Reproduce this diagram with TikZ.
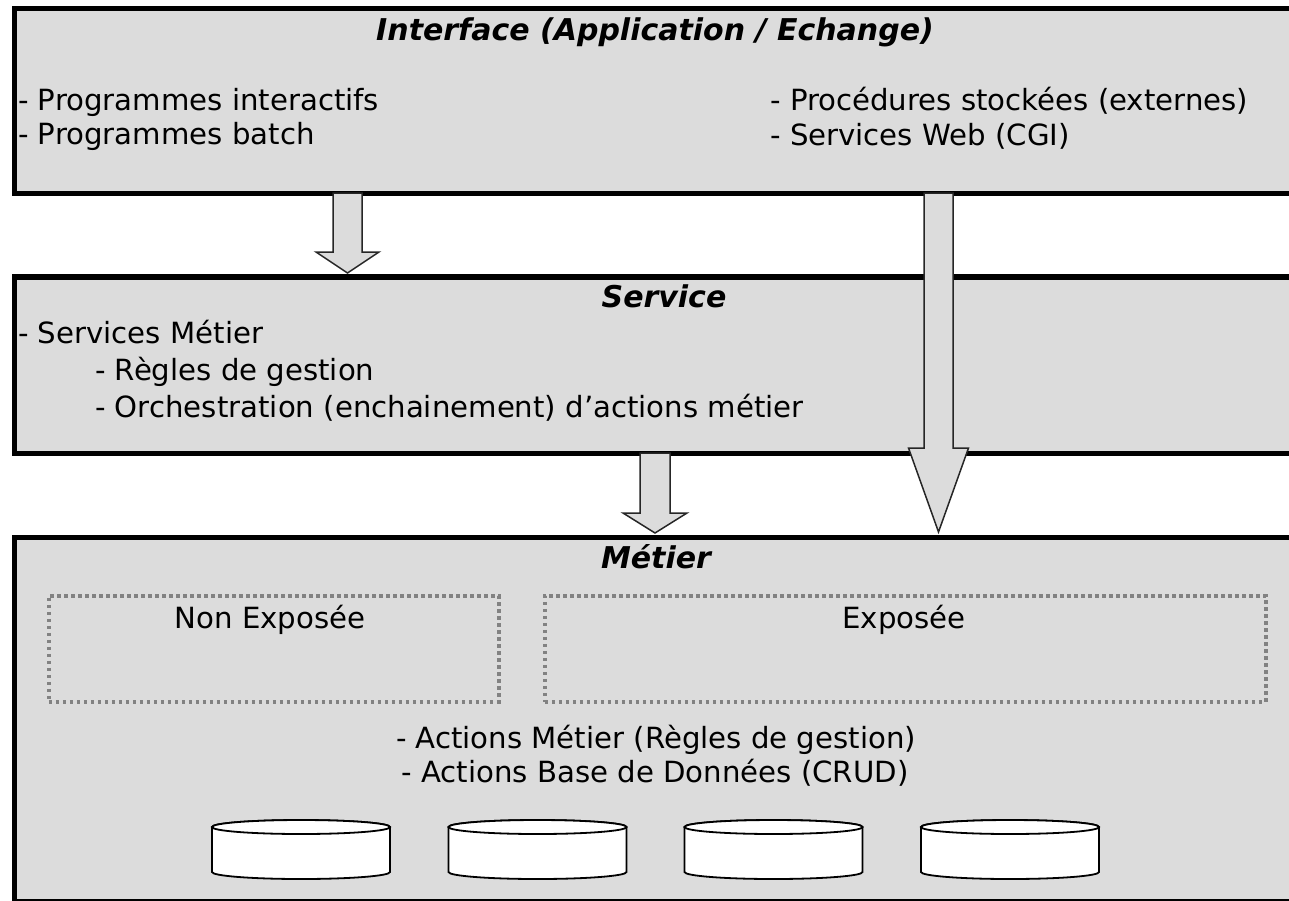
\documentclass[tikz,border=0pt]{standalone}
\usepackage{fontspec}
\setmainfont{DejaVu Sans}
\usetikzlibrary{calc}
\definecolor{boxgray}{RGB}{220,220,220}
\definecolor{dotgray}{RGB}{130,130,130}
\newcommand\blockarrow[6]{%
  \draw[barrow] (#1-#4,#2) -- (#1+#4,#2) -- (#1+#4,#3) -- (#1+#5,#3) -- (#1,#6)
    -- (#1-#5,#3) -- (#1-#4,#3) -- cycle;}
\newcommand\dbcyl[2]{%
  \draw[cyl] (#1-89,827) -- (#1-89,872)
     arc[start angle=180, end angle=360, x radius=89pt, y radius=7pt]
     -- (#1+89,827)
     arc[start angle=0, end angle=180, x radius=89pt, y radius=7pt] -- cycle;
  \draw[cyl] (#1,827) ellipse [x radius=89pt, y radius=7pt];
  \coordinate (#2) at (#1,850);}
\begin{document}
\begin{tikzpicture}[x=1pt,y=-1pt,
  layer/.style={draw=black, line width=5.5pt, fill=boxgray, inner sep=0pt, anchor=north west},
  barrow/.style={draw=black!85, line width=1.5pt, fill=boxgray, line join=miter},
  dotbox/.style={draw=dotgray, line width=3.5pt, dash pattern=on 3.5pt off 3.5pt, inner sep=0pt, anchor=north west},
  cyl/.style={draw=black, line width=1.8pt, fill=white},
  txt/.style={font=\fontsize{29.2}{34}\selectfont, inner sep=0pt},
  ttl/.style={font=\fontsize{30}{34}\selectfont\bfseries\itshape, inner sep=0pt}]
\useasboundingbox (0,0) rectangle (1289,900);
\clip (0,0) rectangle (1289,900);

% layers
\node[layer, minimum width=1400pt, minimum height=185pt] (iface) at (11.5,5.5) {};
\node[layer, minimum width=1400pt, minimum height=176.5pt] (serv) at (11.5,274) {};
\node[layer, minimum width=1400pt, minimum height=364pt] (metier) at (11.5,534.5) {};

% block arrows
\blockarrow{347.5}{193}{252}{14.5}{31.5}{273}
\coordinate (a1) at (347.5,273);
\blockarrow{655}{453}{513}{15}{32}{533}
\coordinate (a3) at (655,533);
\blockarrow{938.5}{193}{448}{14.5}{30}{532}
\coordinate (a2) at (938.5,532);

% interface texts
\node[ttl, anchor=base] (t1) at (655,40) {Interface (Application / Echange)};
\node[txt, anchor=base west] (l1) at (18,110) {- Programmes interactifs};
\node[txt, anchor=base west] (l2) at (18,144) {- Programmes batch};
\node[txt, anchor=base west] (r1) at (770,110) {- Procédures stockées (externes)};
\node[txt, anchor=base west] (r2) at (770,145) {- Services Web (CGI)};

% service texts
\node[ttl, anchor=base] (t2) at (664,307) {Service};
\node[txt, anchor=base west] (s1) at (18,343) {- Services Métier};
\node[txt, anchor=base west] (s2) at (95,380) {- Règles de gestion};
\node[txt, anchor=base west] (s3) at (95,417) {- Orchestration (enchainement) d’actions métier};

% metier texts
\node[ttl, anchor=base] (t3) at (656,568) {Métier};
\node[dotbox, minimum width=450pt, minimum height=106pt] (ne) at (47,594) {};
\node[dotbox, minimum width=721pt, minimum height=106pt] (ex) at (543,594) {};
\node[txt, anchor=base] (net) at (270,628) {Non Exposée};
\node[txt, anchor=base] (ext) at (904,628) {Exposée};
\node[txt, anchor=base] (m1) at (656,748) {- Actions Métier (Règles de gestion)};
\node[txt, anchor=base] (m2) at (655,782) {- Actions Base de Données (CRUD)};

% databases
\dbcyl{301}{db1}
\dbcyl{537.5}{db2}
\dbcyl{773.5}{db3}
\dbcyl{1010}{db4}
\end{tikzpicture}
\end{document}
